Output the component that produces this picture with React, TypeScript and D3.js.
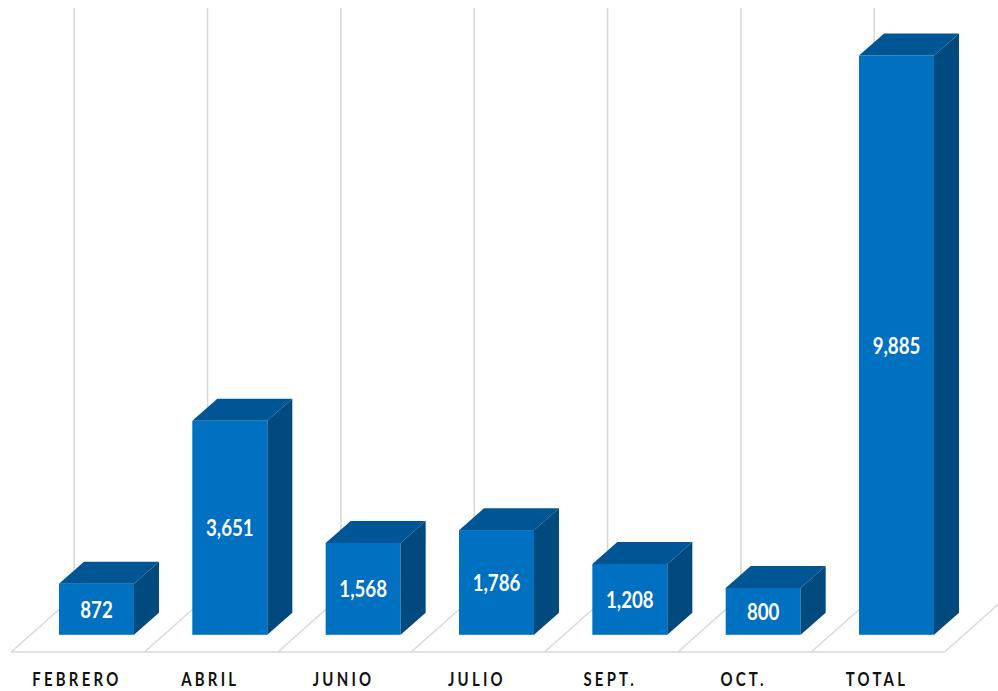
import React from "react";
import * as d3 from "d3";

const categories = ["FEBRERO", "ABRIL", "JUNIO", "JULIO", "SEPT.", "OCT.", "TOTAL"];
const values = [872, 3651, 1568, 1786, 1208, 800, 9885];
const valueLabels = ["872", "3,651", "1,568", "1,786", "1,208", "800", "9,885"];

const W = 998;
const H = 691;
const FRONT = "#0070c0";
const TOP = "#005694";
const SIDE = "#004a80";
const GRID = "#d9d9d9";
const FONT = "Lato, 'Open Sans', sans-serif";

const floorX = d3.scaleBand<string>().domain(categories).range([11.2, 944.6]).paddingInner(0).paddingOuter(0);
const barW = 75;
const y = d3.scaleLinear().domain([0, 9885]).range([634.8, 55.5]);
const depthX = 25;
const depthY = 22;
const floorY = 652;
const gridDX = 63;
const gridDY = 56;
const gridTop = 8;

export default function App() {
  const slots = [...categories.map((c) => floorX(c)!), 944.6];
  return (
    <svg
      width={W}
      height={H}
      viewBox={`0 0 ${W} ${H}`}
      style={{ position: "absolute", left: 0, top: 0, background: "#fff" }}
    >
      <g stroke={GRID} strokeWidth={1.6} fill="none">
        <line x1={slots[0]} x2={slots[7]} y1={floorY} y2={floorY} />
        {slots.map((s, i) => (
          <line key={"d" + i} x1={s} y1={floorY} x2={s + gridDX} y2={floorY - gridDY} />
        ))}
        {slots.slice(0, 7).map((s, i) => (
          <line key={"g" + i} x1={s + gridDX} y1={floorY - gridDY} x2={s + gridDX} y2={gridTop} />
        ))}
      </g>
      {categories.map((c, i) => {
        const x0 = floorX(c)! + (floorX.bandwidth() - barW) / 2 + 18.6;
        const x1 = x0 + barW;
        const yt = y(values[i]);
        const yb = y(0);
        const top = d3.path();
        top.moveTo(x0, yt);
        top.lineTo(x0 + depthX, yt - depthY);
        top.lineTo(x1 + depthX, yt - depthY);
        top.lineTo(x1, yt);
        top.closePath();
        const side = d3.path();
        side.moveTo(x1, yt);
        side.lineTo(x1 + depthX, yt - depthY);
        side.lineTo(x1 + depthX, yb - depthY);
        side.lineTo(x1, yb);
        side.closePath();
        return (
          <g key={c}>
            <rect x={x0} y={yt} width={barW} height={yb - yt} fill={FRONT} />
            <path d={top.toString()} fill={TOP} />
            <path d={side.toString()} fill={SIDE} />
            <text
              transform={`translate(${(x0 + x1) / 2},${(yt + yb) / 2 + 8.5}) scale(0.85,1)`}
              textAnchor="middle"
              fontFamily={FONT}
              fontWeight={700}
              fontSize={22}
              fill="#ffffff"
            >
              {valueLabels[i]}
            </text>
            <text
              transform={`translate(${floorX(c)! + floorX.bandwidth() / 2 - 1},686) scale(0.83,1)`}
              textAnchor="middle"
              fontFamily={FONT}
              fontWeight={700}
              fontSize={18}
              letterSpacing={3.9}
              fill="#111111"
            >
              {c}
            </text>
          </g>
        );
      })}
    </svg>
  );
}
